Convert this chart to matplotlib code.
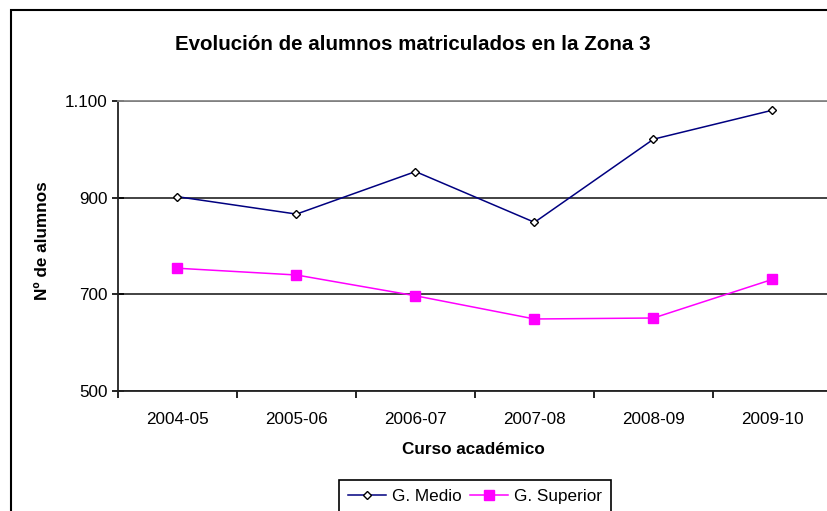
import matplotlib
matplotlib.use("Agg")
import matplotlib.pyplot as plt
from matplotlib.patches import Rectangle

cursos = ["2004-05", "2005-06", "2006-07", "2007-08", "2008-09", "2009-10"]
g_medio = [902, 866, 954, 849, 1021, 1081]
g_superior = [754, 740, 697, 649, 651, 731]
y_ticks = [500, 700, 900, 1100]
y_tick_labels = ["500", "700", "900", "1.100"]

plt.rcParams['font.family'] = ['Liberation Sans', 'DejaVu Sans']

W, H = 828, 511
fig = plt.figure(figsize=(W / 100, H / 100), dpi=100)

# outer chart border
fig.patches.append(Rectangle((11 / W, -0.1), 2.0, 1 - 10 / H + 0.1,
                             transform=fig.transFigure, fill=False,
                             edgecolor='black', linewidth=1.5, clip_on=False))

left, right, top, bottom = 118, 832, 101, 391
ax = fig.add_axes([left / W, 1 - bottom / H, (right - left) / W, (bottom - top) / H])

x = list(range(len(cursos)))
l1, = ax.plot(x, g_medio, color='#000080', linewidth=1.1, marker='D', markersize=3.6,
              markerfacecolor='white', markeredgecolor='black', markeredgewidth=1.0,
              label='G. Medio', zorder=3)
l2, = ax.plot(x, g_superior, color='#FF00FF', linewidth=1.1, marker='s', markersize=6.5,
              markerfacecolor='#FF00FF', markeredgecolor='#FF00FF',
              label='G. Superior', zorder=3)

ax.set_xlim(-0.5, len(cursos) - 0.5)
ax.set_ylim(500, 1100)
ax.set_yticks(y_ticks)
ax.set_yticklabels(y_tick_labels)
ax.set_xticks(x)
ax.set_xticklabels(cursos)
ax.set_xticks([i - 0.5 for i in range(len(cursos) + 1)], minor=True)
ax.tick_params(axis='x', which='major', length=0, pad=15, labelsize=12.3)
ax.tick_params(axis='x', which='minor', length=5, direction='out', width=1.2)
ax.tick_params(axis='y', which='major', length=9, direction='inout', width=1.2,
               labelsize=12.3, pad=3)

ax.yaxis.grid(True, color='#222222', linewidth=1.2)
ax.set_axisbelow(True)
for s in ['left', 'bottom']:
    ax.spines[s].set_color('#222222')
    ax.spines[s].set_linewidth(1.3)
ax.spines['right'].set_visible(False)
ax.spines['top'].set_color('#888888')
ax.spines['top'].set_linewidth(1.3)

fig.text(413 / W, 1 - 45 / H, 'Evolución de alumnos matriculados en la Zona 3',
         ha='center', va='center', fontsize=14.8, fontweight='bold')
fig.text(473 / W, 1 - 450 / H, 'Curso académico', ha='center', va='center',
         fontsize=12.3, fontweight='bold')
fig.text(43 / W, 1 - 241 / H, 'Nº de alumnos', ha='center', va='center',
         rotation=90, fontsize=12.3, fontweight='bold')

leg = fig.legend(handles=[l1, l2], loc='upper left',
                 bbox_to_anchor=(339 / W, 1 - 480 / H), ncol=2, fancybox=False,
                 edgecolor='black', framealpha=1, fontsize=12.3, borderaxespad=0,
                 handlelength=2.2, columnspacing=0.5, handletextpad=0.35,
                 borderpad=0.55)
leg.get_frame().set_linewidth(1.2)

fig.savefig('out.png', dpi=100)
